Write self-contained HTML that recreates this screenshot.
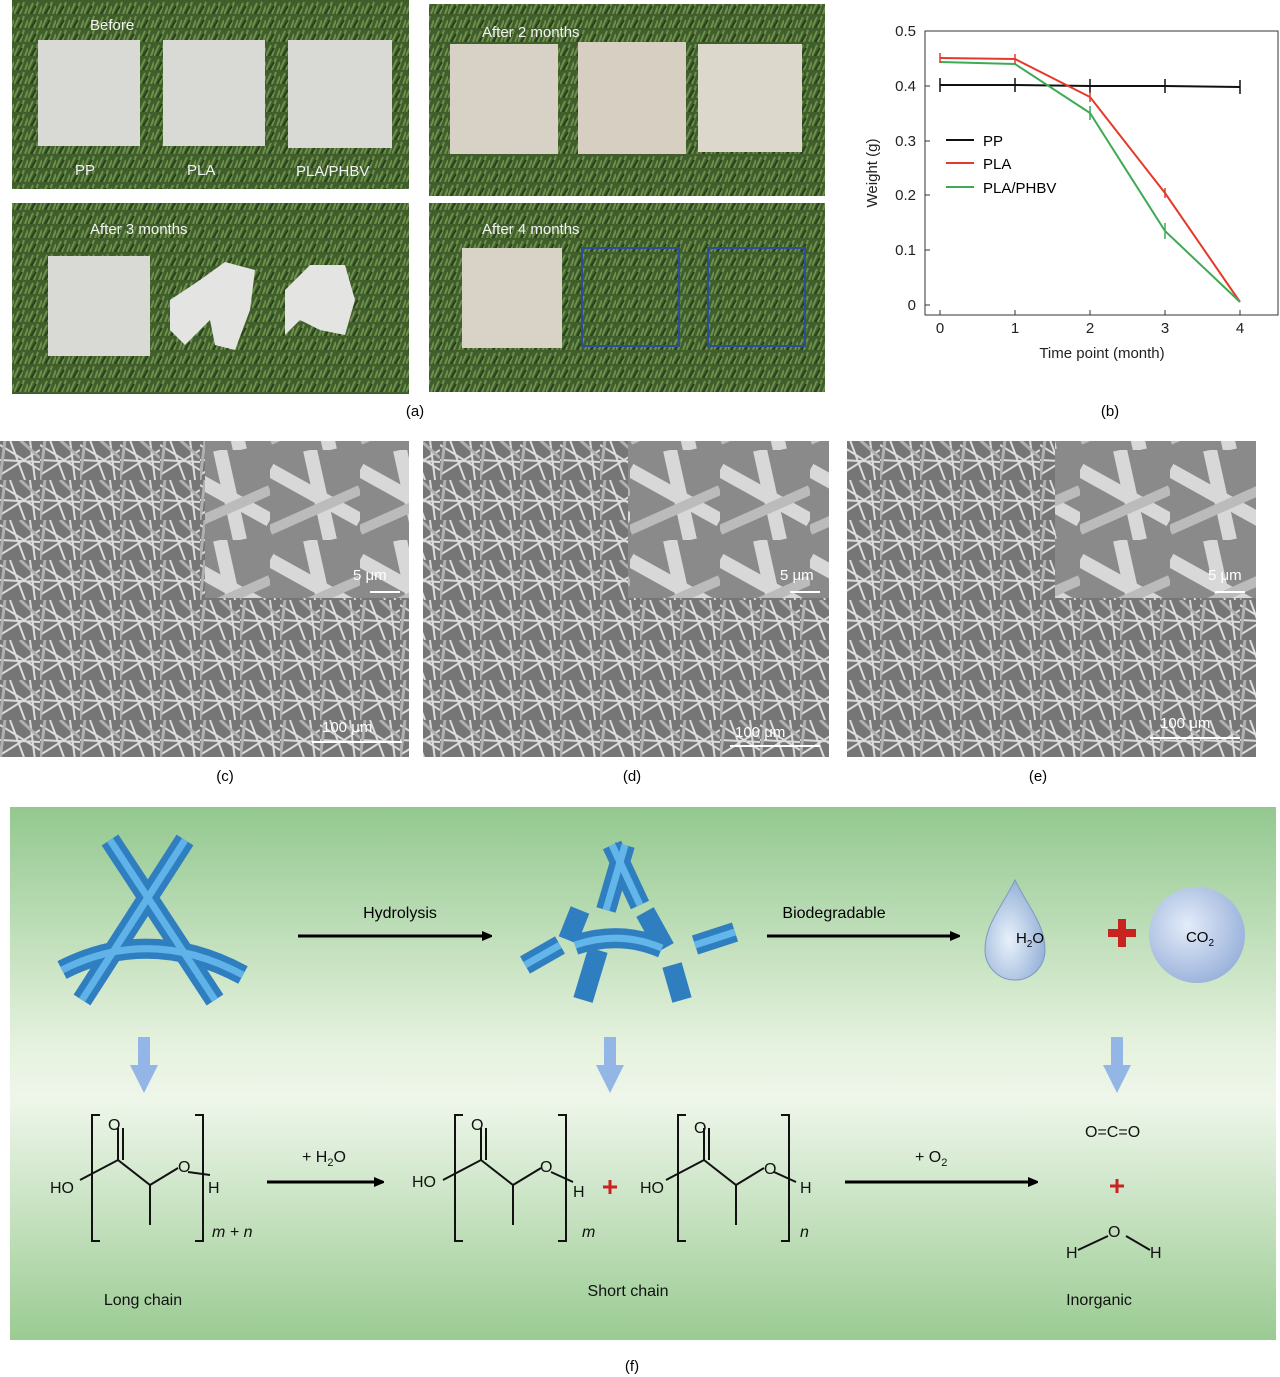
<!DOCTYPE html>
<html><head><meta charset="utf-8"><style>
body{margin:0;background:#fff;}
svg{display:block;font-family:"Liberation Sans",sans-serif;}
</style></head><body>
<svg width="1280" height="1377" viewBox="0 0 1280 1377" xmlns="http://www.w3.org/2000/svg">
<defs>
<pattern id="grass" width="14" height="14" patternUnits="userSpaceOnUse">
<rect width="14" height="14" fill="#3f5e2c"/>
<path d="M0 14 L5 3 M6 14 L10 2 M11 14 L14 6" stroke="#6e8f4a" stroke-width="2"/>
<path d="M3 14 L8 6" stroke="#26401c" stroke-width="2"/>
</pattern>
<pattern id="sem" width="40" height="40" patternUnits="userSpaceOnUse">
<rect width="40" height="40" fill="#767676"/>
<path d="M0 5 L40 30 M10 0 L25 40 M0 35 L40 10 M30 0 L35 40 M0 20 L40 22" stroke="#dcdcdc" stroke-width="2"/>
<path d="M5 0 L0 40 M20 0 L40 18" stroke="#b0b0b0" stroke-width="3"/>
</pattern>
<pattern id="semin" width="90" height="90" patternUnits="userSpaceOnUse">
<rect width="90" height="90" fill="#8a8a8a"/>
<path d="M0 20 L90 70 M40 0 L60 90" stroke="#d8d8d8" stroke-width="14"/>
<path d="M0 80 L90 40" stroke="#bbbbbb" stroke-width="10"/>
</pattern>
<linearGradient id="fg" x1="0" y1="0" x2="0" y2="1">
<stop offset="0" stop-color="#93c88f"/>
<stop offset="0.45" stop-color="#e6f2df"/>
<stop offset="0.55" stop-color="#eef6ea"/>
<stop offset="1" stop-color="#9acb92"/>
</linearGradient>
<radialGradient id="drop" cx="0.4" cy="0.6" r="0.7">
<stop offset="0" stop-color="#e8f1fb"/><stop offset="1" stop-color="#8aa8d2"/>
</radialGradient>
<radialGradient id="ball" cx="0.4" cy="0.4" r="0.7">
<stop offset="0" stop-color="#e3ecf9"/><stop offset="1" stop-color="#93acd8"/>
</radialGradient>
<marker id="ar" markerWidth="10" markerHeight="10" refX="8" refY="5" orient="auto" markerUnits="userSpaceOnUse"><path d="M0 0 L12 5 L0 10 Z" fill="#000"/></marker>
</defs>

<rect x="12" y="0" width="397" height="189" fill="url(#grass)"/>
<rect x="429" y="4" width="396" height="192" fill="url(#grass)"/>
<rect x="12" y="203" width="397" height="191" fill="url(#grass)"/>
<rect x="429" y="203" width="396" height="189" fill="url(#grass)"/>
<g fill="#d9d9d6">
<rect x="38" y="40" width="102" height="106"/><rect x="163" y="40" width="102" height="106"/><rect x="288" y="40" width="104" height="108"/>
<rect x="450" y="44" width="108" height="110" fill="#d8d2c6"/><rect x="578" y="42" width="108" height="112" fill="#d6cfc2"/><rect x="698" y="44" width="104" height="108" fill="#ddd8cc"/>
<rect x="48" y="256" width="102" height="100"/>
<path d="M170 300 L200 280 L225 262 L255 270 L250 310 L235 350 L215 345 L210 320 L185 345 L170 330 Z" fill="#e4e4e2"/>
<path d="M285 290 L310 265 L345 265 L355 300 L345 335 L320 330 L300 320 L285 335 Z" fill="#e4e4e2"/>
<rect x="462" y="248" width="100" height="100" fill="#d8d3c6"/>
</g>
<rect x="582" y="248" width="97" height="98" fill="none" stroke="#2a4e9a" stroke-width="2"/>
<rect x="708" y="248" width="97" height="98" fill="none" stroke="#2a4e9a" stroke-width="2"/>
<g fill="#f2f2f2" font-size="15">
<text x="90" y="30">Before</text><text x="75" y="175">PP</text><text x="187" y="175">PLA</text><text x="296" y="176">PLA/PHBV</text>
<text x="482" y="37">After 2 months</text><text x="90" y="234">After 3 months</text><text x="482" y="234">After 4 months</text>
</g>
<text x="415" y="416" font-size="15" text-anchor="middle">(a)</text>
<text x="1110" y="416" font-size="15" text-anchor="middle">(b)</text>

<g font-size="15" fill="#222">
<rect x="925" y="31" width="353" height="284" fill="none" stroke="#333" stroke-width="1"/>
<g text-anchor="end">
<text x="916" y="36">0.5</text><text x="916" y="91">0.4</text><text x="916" y="146">0.3</text><text x="916" y="200">0.2</text><text x="916" y="255">0.1</text><text x="916" y="310">0</text></g>
<g stroke="#333"><path d="M925 31h5M925 86h5M925 141h5M925 195h5M925 250h5M925 305h5"/><path d="M940 315v-5M1015 315v-5M1090 315v-5M1165 315v-5M1240 315v-5"/></g>
<g text-anchor="middle"><text x="940" y="333">0</text><text x="1015" y="333">1</text><text x="1090" y="333">2</text><text x="1165" y="333">3</text><text x="1240" y="333">4</text>
<text x="1102" y="358">Time point (month)</text></g>
<text transform="translate(877,173) rotate(-90)" text-anchor="middle">Weight (g)</text>
</g>
<polyline points="940,85 1015,85 1090,86 1165,86 1240,87" fill="none" stroke="#111" stroke-width="2"/>
<polyline points="940,58 1015,59 1090,97 1165,193 1240,302" fill="none" stroke="#e33a2c" stroke-width="2"/>
<polyline points="940,62 1015,64 1090,113 1165,231 1240,302" fill="none" stroke="#3faa55" stroke-width="2"/>
<g stroke="#111" stroke-width="1.5"><path d="M940 78v14M1015 78v14M1090 79v14M1165 79v14M1240 80v14"/></g>
<g stroke="#e33a2c" stroke-width="1.5"><path d="M940 53v10M1015 54v10M1090 92v10M1165 188v10"/></g>
<g stroke="#3faa55" stroke-width="1.5"><path d="M1090 106v14M1165 223v16"/></g>
<line x1="946" y1="140" x2="974" y2="140" stroke="#111" stroke-width="2"/><text x="983" y="146" font-size="15">PP</text>
<line x1="946" y1="163" x2="974" y2="163" stroke="#e33a2c" stroke-width="2"/><text x="983" y="169" font-size="15">PLA</text>
<line x1="946" y1="187" x2="974" y2="187" stroke="#3faa55" stroke-width="2"/><text x="983" y="193" font-size="15">PLA/PHBV</text>

<rect x="0" y="441" width="409" height="316" fill="url(#sem)"/>
<rect x="423" y="441" width="406" height="316" fill="url(#sem)"/>
<rect x="847" y="441" width="409" height="316" fill="url(#sem)"/>
<rect x="205" y="441" width="204" height="157" fill="url(#semin)"/>
<rect x="628" y="441" width="201" height="157" fill="url(#semin)"/>
<rect x="1055" y="441" width="201" height="157" fill="url(#semin)"/>
<g fill="#fff" font-size="15">
<text x="353" y="580">5 μm</text><text x="780" y="580">5 μm</text><text x="1208" y="580">5 μm</text>
<text x="322" y="732">100 μm</text><text x="735" y="737">100 μm</text><text x="1160" y="728">100 μm</text></g>
<g stroke="#fff" stroke-width="2"><path d="M370 592h30M790 592h30M1215 592h30M312 742h90M730 746h90M1150 738h90"/></g>
<g font-size="15" text-anchor="middle"><text x="225" y="781">(c)</text><text x="632" y="781">(d)</text><text x="1038" y="781">(e)</text><text x="632" y="1371">(f)</text></g>

<rect x="10" y="807" width="1266" height="533" fill="url(#fg)"/>
<g stroke="#2f7fc0" stroke-width="20" fill="none">
<path d="M185 840 L82 1000"/><path d="M110 840 L215 1000"/><path d="M62 970 Q150 925 243 975"/>
</g>
<g stroke="#5fb3e8" stroke-width="7" fill="none">
<path d="M185 840 L82 1000"/><path d="M110 840 L215 1000"/><path d="M62 970 Q150 925 243 975"/>
</g>
<g stroke="#2f7fc0" stroke-width="20" fill="none">
<path d="M525 965 L560 945"/><path d="M568 940 L580 910"/><path d="M583 1000 L598 950"/><path d="M606 910 L625 845"/>
<path d="M612 845 L640 905"/><path d="M645 912 L665 948"/><path d="M672 965 L682 1000"/><path d="M575 945 Q620 930 662 948"/><path d="M695 945 L735 932"/>
</g>
<g stroke="#62b6ea" stroke-width="7" fill="none">
<path d="M525 965 L560 945"/><path d="M606 910 L625 845"/><path d="M612 845 L640 905"/><path d="M575 945 Q620 930 662 948"/><path d="M695 945 L735 932"/>
</g>
<line x1="298" y1="936" x2="490" y2="936" stroke="#000" stroke-width="3" marker-end="url(#ar)"/>
<line x1="767" y1="936" x2="958" y2="936" stroke="#000" stroke-width="3" marker-end="url(#ar)"/>
<text x="400" y="918" font-size="16" text-anchor="middle">Hydrolysis</text>
<text x="834" y="918" font-size="16" text-anchor="middle">Biodegradable</text>
<path d="M1015 880 C1000 910 985 925 985 950 A30 30 0 0 0 1045 950 C1045 925 1030 910 1015 880 Z" fill="url(#drop)" stroke="#7d98c4"/>
<text x="1030" y="943" font-size="15" text-anchor="middle">H<tspan font-size="10" dy="4">2</tspan><tspan dy="-4">O</tspan></text>
<path d="M1108 933h28M1122 919v28" stroke="#c8231e" stroke-width="8"/>
<circle cx="1197" cy="935" r="48" fill="url(#ball)"/>
<text x="1200" y="942" font-size="15" text-anchor="middle">CO<tspan font-size="10" dy="4">2</tspan></text>
<g fill="#93b6e6">
<path d="M138 1037h12v28h8l-14 28l-14-28h8z"/><path d="M604 1037h12v28h8l-14 28l-14-28h8z"/><path d="M1111 1037h12v28h8l-14 28l-14-28h8z"/>
</g>
<g stroke="#111" stroke-width="2" fill="none">
<path d="M100 1115h-8v126h8"/><path d="M195 1115h8v126h-8"/>
<path d="M80 1180 L118 1160 L150 1185 L178 1168 M118 1160 V1128 M123 1160 V1128 M150 1185 V1225"/>
<path d="M188 1172 L210 1175"/>
<path d="M463 1115h-8v126h8"/><path d="M558 1115h8v126h-8"/>
<path d="M443 1180 L481 1160 L513 1185 L541 1168 M481 1160 V1128 M486 1160 V1128 M513 1185 V1225"/>
<path d="M551 1172 L573 1182"/>
<path d="M686 1115h-8v126h8"/><path d="M781 1115h8v126h-8"/>
<path d="M666 1180 L704 1160 L736 1185 L764 1168 M704 1160 V1128 M709 1160 V1128 M736 1185 V1225"/>
<path d="M774 1172 L796 1182"/>
<path d="M1078 1250 L1108 1236 M1126 1236 L1150 1250"/>
</g>
<g font-size="16" fill="#111">
<text x="50" y="1193">HO</text><text x="108" y="1130">O</text><text x="178" y="1172">O</text><text x="208" y="1193">H</text>
<text x="212" y="1237" font-style="italic">m + n</text>
<text x="412" y="1187">HO</text><text x="471" y="1130">O</text><text x="540" y="1172">O</text><text x="573" y="1197">H</text><text x="582" y="1237" font-style="italic">m</text>
<text x="640" y="1193">HO</text><text x="694" y="1133">O</text><text x="764" y="1174">O</text><text x="800" y="1193">H</text><text x="800" y="1237" font-style="italic">n</text>
<text x="302" y="1162">+ H<tspan font-size="11" dy="4">2</tspan><tspan dy="-4">O</tspan></text>
<text x="915" y="1162">+ O<tspan font-size="11" dy="4">2</tspan></text>
<text x="1085" y="1137">O=C=O</text>
<text x="1108" y="1237">O</text><text x="1066" y="1258">H</text><text x="1150" y="1258">H</text>
<text x="143" y="1305" text-anchor="middle">Long chain</text>
<text x="628" y="1296" text-anchor="middle">Short chain</text>
<text x="1099" y="1305" text-anchor="middle">Inorganic</text>
</g>
<path d="M603 1187h14M610 1180v14" stroke="#c8231e" stroke-width="3"/>
<path d="M1110 1186h14M1117 1179v14" stroke="#c8231e" stroke-width="3"/>
<line x1="267" y1="1182" x2="382" y2="1182" stroke="#000" stroke-width="3" marker-end="url(#ar)"/>
<line x1="845" y1="1182" x2="1036" y2="1182" stroke="#000" stroke-width="3" marker-end="url(#ar)"/>
</svg>
</body></html>
